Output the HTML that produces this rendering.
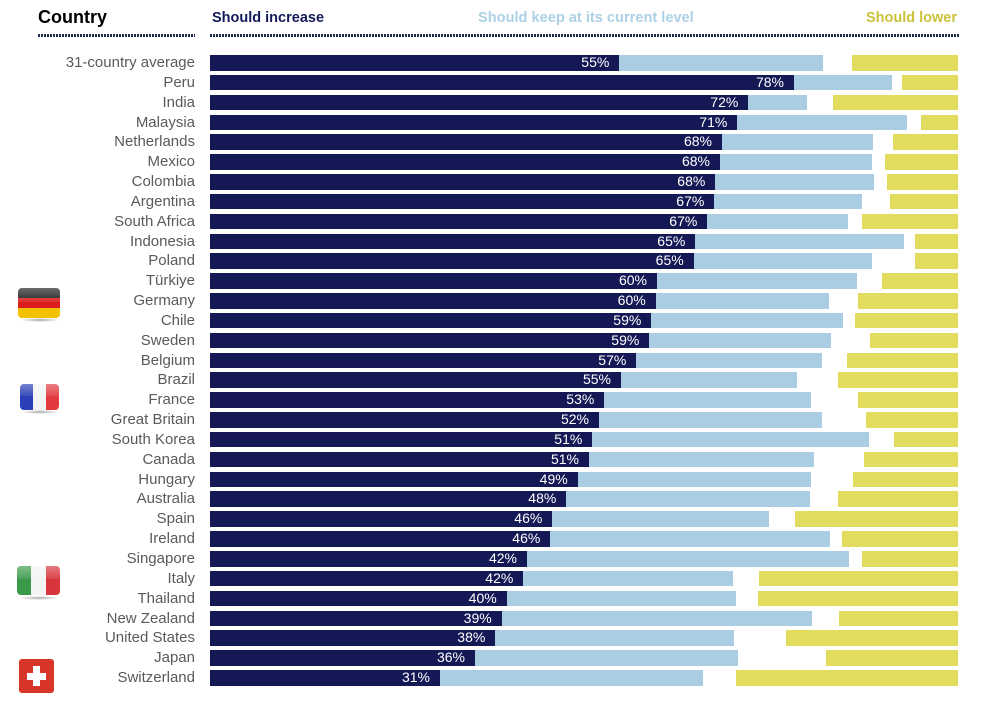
<!DOCTYPE html>
<html><head><meta charset="utf-8">
<style>
html,body{margin:0;padding:0;background:#fff;}
body{width:1000px;height:708px;position:relative;overflow:hidden;font-family:"Liberation Sans",sans-serif;}
.a{position:absolute;}
.d{position:absolute;background:#141955;height:15.5px;}
.l{position:absolute;background:#aacde3;height:15.5px;}
.y{position:absolute;background:#e2dc5e;height:15.5px;}
.c{position:absolute;right:805px;font-size:15px;color:#5a5a5a;line-height:15.5px;height:15.5px;white-space:nowrap;}
.p{position:absolute;font-size:14px;color:#fff;line-height:15.5px;height:15.5px;white-space:nowrap;text-align:right;}
.dot{position:absolute;height:3px;background:repeating-linear-gradient(90deg,#1f2d4d 0 2px,transparent 2px 3px);}
.flag{position:absolute;border-radius:4px;overflow:hidden;}
.shadow{position:absolute;height:4px;border-radius:50%;background:radial-gradient(ellipse at center,rgba(0,0,0,0.35),rgba(0,0,0,0) 70%);}
.gloss{position:absolute;left:0;top:0;right:0;height:45%;background:linear-gradient(180deg,rgba(255,255,255,0.35),rgba(255,255,255,0.08));}
</style></head><body>
<div class="a" style="left:38px;top:7px;font-size:18px;font-weight:bold;color:#000;">Country</div>
<div class="a" style="left:212px;top:10px;font-size:14.5px;font-weight:bold;color:#151a5a;">Should increase</div>
<div class="a" style="left:478px;top:10px;font-size:14.6px;font-weight:bold;color:#acd0e6;">Should keep at its current level</div>
<div class="a" style="right:43px;top:10px;font-size:14.5px;font-weight:bold;color:#c9c23a;">Should lower</div>
<div class="dot" style="left:38px;top:34px;width:157px;"></div>
<div class="dot" style="left:210px;top:34px;width:750px;"></div>

<!-- flags -->
<div class="shadow" style="left:20px;top:318px;width:40px;"></div>
<div class="flag" style="left:18px;top:288px;width:42px;height:30px;">
<div style="height:10px;background:#1a1a1a"></div><div style="height:10px;background:#dd1c1c"></div><div style="height:10px;background:#f2c200"></div><div class="gloss"></div></div>
<div class="shadow" style="left:21px;top:410px;width:38px;"></div>
<div class="flag" style="left:20px;top:384px;width:39px;height:26px;display:flex;">
<div style="flex:1;background:#2a3fb8"></div><div style="flex:1;background:#f4f4f4"></div><div style="flex:1;background:#e33a3f"></div><div class="gloss"></div></div>
<div class="shadow" style="left:19px;top:596px;width:40px;"></div>
<div class="flag" style="left:17px;top:566px;width:43px;height:29px;display:flex;">
<div style="flex:1;background:#3a9a4a"></div><div style="flex:1;background:#f4f4f4"></div><div style="flex:1;background:#d8353d"></div><div class="gloss"></div></div>
<div class="flag" style="left:19px;top:659px;width:35px;height:34px;background:#d8362b;border-radius:3px;">
<div class="a" style="left:14px;top:7px;width:7px;height:20px;background:#fff"></div>
<div class="a" style="left:8px;top:13.5px;width:19px;height:7px;background:#fff"></div></div>

<div id="rows"></div>
<script>
var data=[
["31-country average",55,619.3,823.3,852.3],
["Peru",78,794,892,902],
["India",72,748.3,806.7,833],
["Malaysia",71,737.3,907,921.3],
["Netherlands",68,722,873,893],
["Mexico",68,720,872.3,884.7],
["Colombia",68,715.3,874,887],
["Argentina",67,714.3,861.7,890.3],
["South Africa",67,707.3,847.7,862],
["Indonesia",65,695.3,903.7,914.7],
["Poland",65,693.7,872.3,914.7],
["Türkiye",60,657,856.7,881.7],
["Germany",60,655.7,829,857.7],
["Chile",59,651.3,843.3,854.7],
["Sweden",59,649.3,831.3,870],
["Belgium",57,636.3,822.3,847],
["Brazil",55,621,797,838],
["France",53,604.3,811,858.3],
["Great Britain",52,599,822.3,865.7],
["South Korea",51,592.3,869.3,894],
["Canada",51,589,814.3,864],
["Hungary",49,577.7,811,853],
["Australia",48,566.3,809.7,838],
["Spain",46,552.3,768.7,795.3],
["Ireland",46,550.3,829.7,842],
["Singapore",42,527,849.3,862],
["Italy",42,523.3,732.7,758.7],
["Thailand",40,506.7,736.3,758],
["New Zealand",39,501.7,812,839],
["United States",38,495.3,734.3,786.3],
["Japan",36,475,738.3,826.3],
["Switzerland",31,440,703,736]];
var h="";
for(var i=0;i<data.length;i++){
 var r=data[i],t=(55+i*19.84).toFixed(2);
 h+='<div class="c" style="top:'+t+'px">'+r[0]+'</div>';
 h+='<div class="d" style="left:210px;top:'+t+'px;width:'+(r[2]-210).toFixed(1)+'px"></div>';
 h+='<div class="l" style="left:'+r[2]+'px;top:'+t+'px;width:'+(r[3]-r[2]).toFixed(1)+'px"></div>';
 h+='<div class="y" style="left:'+r[4]+'px;top:'+t+'px;width:'+(958-r[4]).toFixed(1)+'px"></div>';
 h+='<div class="p" style="right:'+(1000-r[2]+10).toFixed(1)+'px;top:'+t+'px">'+r[1]+'%</div>';
}
document.getElementById("rows").innerHTML=h;
</script>
</body></html>
